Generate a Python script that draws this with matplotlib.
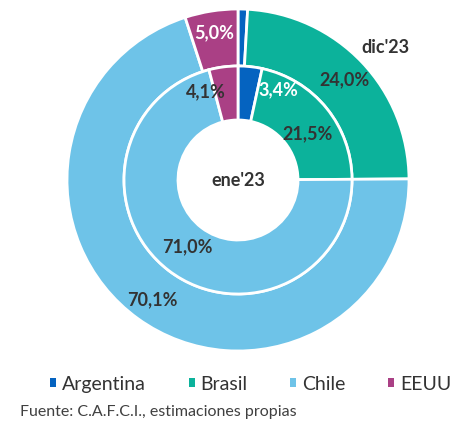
import numpy as np
import matplotlib.pyplot as plt
from matplotlib.patches import Patch

plt.rcParams['font.family'] = ['Lato', 'DejaVu Sans']

# data
paises = ["Argentina", "Brasil", "Chile", "EEUU"]
dic23 = [0.9, 24.0, 70.1, 5.0]
ene23 = [3.4, 21.5, 71.0, 4.1]
dic23_labels = ["", "24,0%", "70,1%", "5,0%"]
ene23_labels = ["3,4%", "21,5%", "71,0%", "4,1%"]

colores = ["#0563C0", "#0CB29B", "#6EC3E8", "#AA4085"]
txt_dic = ["#333333", "#333333", "#333333", "white"]
txt_ene = ["white", "#333333", "#333333", "#333333"]
# (angle shift in degrees, radius) for each label
pos_dic = [(0, 0.86), (0, 0.86), (0, 0.855), (0, 0.875)]
pos_ene = [(-17.4, 0.585), (-5, 0.49), (0, 0.485), (12.6, 0.556)]

fig = plt.figure(figsize=(4.55, 4.35), dpi=100)
W, H = 455, 435
cx, cy, R = 238, 181, 171
ax = fig.add_axes([(cx - R) / W, (H - cy - R) / H, 2 * R / W, 2 * R / H])

wp = dict(edgecolor="white", linewidth=2)
w_out, _ = ax.pie(dic23, radius=1.0, colors=colores, startangle=90,
                  counterclock=False, wedgeprops=dict(width=57 / R, **wp))
w_in, _ = ax.pie(ene23, radius=114 / R, colors=colores, startangle=90,
                 counterclock=False, wedgeprops=dict(width=54 / R, **wp))
ax.set_xlim(-1, 1)
ax.set_ylim(-1, 1)


def etiquetas(vals, labels, pos, cols):
    total = sum(vals)
    acc = 0
    for v, lab, (da, r), c in zip(vals, labels, pos, cols):
        mid = 90 - 360 * (acc + v / 2) / total + da
        acc += v
        if lab == "":
            continue
        a = np.deg2rad(mid)
        ax.text(r * np.cos(a), r * np.sin(a), lab, ha="center", va="center",
                fontsize=13, fontweight="bold", color=c)


etiquetas(dic23, dic23_labels, pos_dic, txt_dic)
etiquetas(ene23, ene23_labels, pos_ene, txt_ene)

ax.text(0.86, 0.78, "dic'23", ha="center", va="center", fontsize=13,
        fontweight="bold", color="#333333")
ax.text(0, 0.0, "ene'23", ha="center", va="center", fontsize=13,
        fontweight="bold", color="#333333")

handles = [Patch(facecolor=c) for c in colores]
fig.legend(handles, paises, loc="center", bbox_to_anchor=(0.551, 1 - 385 / H),
           ncol=4, frameon=False, fontsize=14, handlelength=0.3,
           handleheight=0.3, handletextpad=0.3, columnspacing=2.2,
           labelcolor="#333333")

fig.text(20 / W, 1 - 412 / H, "Fuente: C.A.F.C.I., estimaciones propias",
         fontsize=11.5, color="#404040", va="center")

fig.savefig("out.png", dpi=100)
